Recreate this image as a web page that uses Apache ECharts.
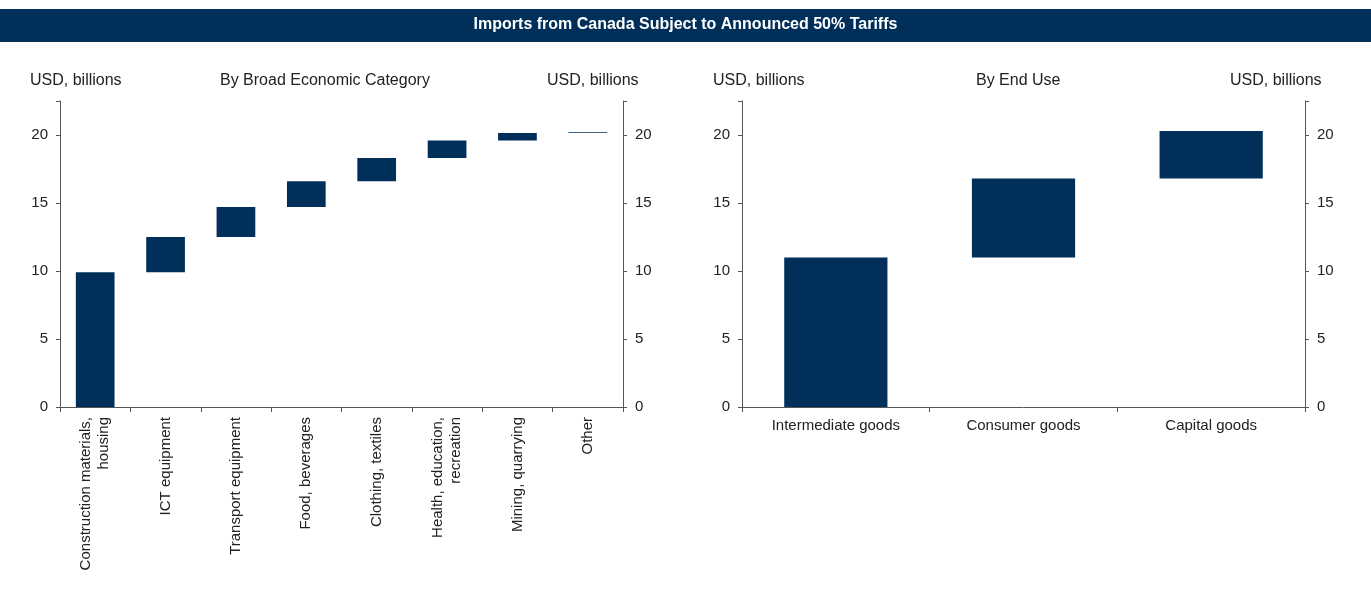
<!DOCTYPE html>
<html>
<head>
<meta charset="utf-8">
<script src="https://cdn.jsdelivr.net/npm/echarts@6/dist/echarts.min.js"></script>
<style>
html,body{margin:0;padding:0;background:#fff}
#box{width:1371px;height:615px}
</style>
</head>
<body>
<div id="box"></div>
<script>
// 左图：按大类 (累计瀑布)
var catsLeft = ['Construction materials,\nhousing', 'ICT equipment', 'Transport equipment', 'Food, beverages',
    'Clothing, textiles', 'Health, education,\nrecreation', 'Mining, quarrying', 'Other'];
var baseLeft = [0, 9.9, 12.5, 14.7, 16.6, 18.3, 19.6, 20.15];
var valLeft = [9.9, 2.6, 2.2, 1.9, 1.7, 1.3, 0.55, 0.05];

// 右图：按最终用途
var catsRight = ['Intermediate goods', 'Consumer goods', 'Capital goods'];
var baseRight = [0, 11.0, 16.8];
var valRight = [11.0, 5.8, 3.5];

var navy = '#00305a';
var myChart = echarts.init(document.getElementById('box'));

function yAx(gi, pos) {
    return {
        type: 'value', gridIndex: gi, position: pos, min: 0, max: 22.5, interval: 5,
        axisLine: {show: true, lineStyle: {color: '#555'}},
        axisTick: {show: true, length: 4, lineStyle: {color: '#555'}},
        splitLine: {show: false},
        axisLabel: {color: '#222', fontSize: 15, fontFamily: 'Liberation Sans', margin: 12,
            formatter: function (v) { return v % 5 === 0 ? v : ''; }}
    };
}
function xAx(gi, data, rotate) {
    return {
        type: 'category', gridIndex: gi, data: data,
        axisLine: {lineStyle: {color: '#555'}},
        axisTick: {show: true, length: 5, lineStyle: {color: '#555'}},
        axisLabel: {color: '#222', fontSize: 15, fontFamily: 'Liberation Sans', rotate: rotate,
            interval: 0, margin: 10, lineHeight: 18}
    };
}
function txt(l, t, s) {
    return {type: 'text', left: l, top: t, style: {text: s, fontSize: 16, fill: '#222', fontFamily: 'Liberation Sans'}};
}

var option = {
    animation: false,
    graphic: [
        {type: 'rect', left: 0, top: 9, shape: {width: 1371, height: 33}, style: {fill: navy}},
        {type: 'text', left: 'center', top: 17, style: {text: 'Imports from Canada Subject to Announced 50% Tariffs',
            fontSize: 16, fontWeight: 'bold', fill: '#fff', fontFamily: 'Liberation Sans'}},
        txt(30, 73, 'USD, billions'), txt(220, 73, 'By Broad Economic Category'), txt(547, 73, 'USD, billions'),
        txt(713, 73, 'USD, billions'), txt(976, 73, 'By End Use'), txt(1230, 73, 'USD, billions')
    ],
    grid: [
        {left: 60, width: 563, top: 101, height: 306},
        {left: 742, width: 563, top: 101, height: 306}
    ],
    xAxis: [xAx(0, catsLeft, 90), xAx(1, catsRight, 0)],
    yAxis: [yAx(0, 'left'), yAx(0, 'right'), yAx(1, 'left'), yAx(1, 'right')],
    series: [
        {type: 'bar', xAxisIndex: 0, yAxisIndex: 0, stack: 'a', data: baseLeft, itemStyle: {color: 'transparent'}, barWidth: '55%'},
        {type: 'bar', xAxisIndex: 0, yAxisIndex: 0, stack: 'a', data: valLeft, itemStyle: {color: navy}, barWidth: '55%'},
        {type: 'bar', xAxisIndex: 1, yAxisIndex: 2, stack: 'b', data: baseRight, itemStyle: {color: 'transparent'}, barWidth: '55%'},
        {type: 'bar', xAxisIndex: 1, yAxisIndex: 2, stack: 'b', data: valRight, itemStyle: {color: navy}, barWidth: '55%'}
    ]
};
myChart.setOption(option);
</script>
</body>
</html>
